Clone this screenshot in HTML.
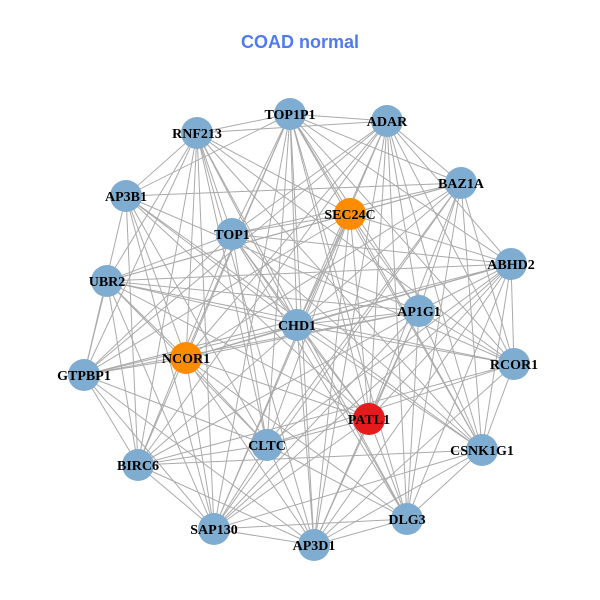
<!DOCTYPE html>
<html><head><meta charset="utf-8"><style>
html,body{margin:0;padding:0;background:#fff;width:600px;height:600px;overflow:hidden}
</style></head><body>
<svg id="g" width="600" height="600" xmlns="http://www.w3.org/2000/svg">
<rect width="600" height="600" fill="#fff"/>
<text x="300" y="48" text-anchor="middle" font-family="Liberation Sans, sans-serif" font-weight="bold" font-size="18" fill="#4F7BEF">COAD normal</text>
<g id="edges" stroke="#aaaaaa" stroke-width="1"></g>
<g id="nodes"></g>
</svg>
<script>
var N=[["TOP1P1",290,114,"#7EADD1"],["ADAR",387,121,"#7EADD1"],["RNF213",197,133,"#7EADD1"],["BAZ1A",461,183,"#7EADD1"],["AP3B1",126,196,"#7EADD1"],["SEC24C",350,214,"#FF8C00"],["TOP1",232,234,"#7EADD1"],["ABHD2",511,264,"#7EADD1"],["UBR2",107,281,"#7EADD1"],["AP1G1",419,311,"#7EADD1"],["CHD1",297,325,"#7EADD1"],["NCOR1",186,358,"#FF8C00"],["GTPBP1",84,375,"#7EADD1"],["RCOR1",514,364,"#7EADD1"],["PATL1",369,419,"#E41A1C"],["CLTC",267,445,"#7EADD1"],["CSNK1G1",482,450,"#7EADD1"],["BIRC6",138,465,"#7EADD1"],["DLG3",407,519,"#7EADD1"],["SAP130",214,529,"#7EADD1"],["AP3D1",314,545,"#7EADD1"]];
var ns="http://www.w3.org/2000/svg",E=document.getElementById("edges"),G=document.getElementById("nodes");
var s=7;function r(){s=(s*9301+49297)%233280;return s/233280;}
for(var i=0;i<N.length;i++)for(var j=i+1;j<N.length;j++){if(r()<0.72){var l=document.createElementNS(ns,"line");l.setAttribute("x1",N[i][1]);l.setAttribute("y1",N[i][2]);l.setAttribute("x2",N[j][1]);l.setAttribute("y2",N[j][2]);E.appendChild(l);}}
N.forEach(function(n){var c=document.createElementNS(ns,"circle");c.setAttribute("cx",n[1]);c.setAttribute("cy",n[2]);c.setAttribute("r",16);c.setAttribute("fill",n[3]);G.appendChild(c);});
N.forEach(function(n){var t=document.createElementNS(ns,"text");t.setAttribute("x",n[1]);t.setAttribute("y",n[2]+5);t.setAttribute("text-anchor","middle");t.setAttribute("font-family","Liberation Serif, serif");t.setAttribute("font-weight","bold");t.setAttribute("font-size","14");t.setAttribute("fill","#000");t.textContent=n[0];G.appendChild(t);});
</script>
</body></html>
